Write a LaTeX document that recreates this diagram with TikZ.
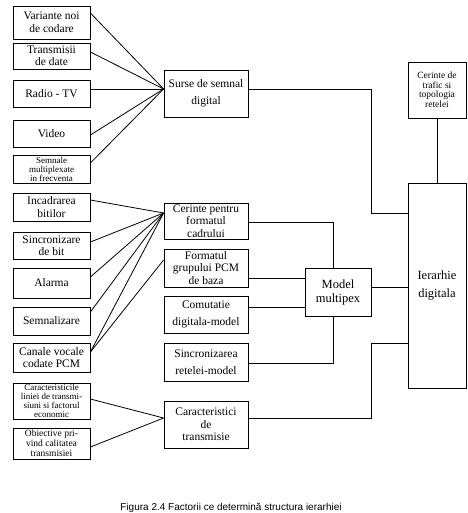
\documentclass[tikz,border=0pt]{standalone}
\usepackage{fontspec}
\setmainfont{Liberation Serif}
\newfontfamily\captionfont{Liberation Sans}
\usepackage{tikz}
\usetikzlibrary{positioning}
\tikzstyle{factor} = [rectangle, minimum width=77pt, text centered, align=center, draw=black, inner sep=1pt, font=\fontsize{11.5}{12.5}\selectfont]
\tikzstyle{factormic} = [factor, font=\fontsize{9}{9}\selectfont]
\tikzstyle{grup} = [rectangle, minimum width=84pt, text centered, align=center, draw=black, inner sep=1pt, font=\fontsize{11.5}{12.5}\selectfont]
\tikzstyle{bloc} = [rectangle, text centered, align=center, draw=black, inner sep=1pt, font=\fontsize{12.5}{14}\selectfont]
\tikzstyle{line} = [line width=0.8pt]

\begin{document}
\begin{tikzpicture}[x=1pt, y=-1pt, line width=0.8pt]
			\useasboundingbox (0,0) rectangle (467,513);
			
			% surse de semnal digital
			\node (var_cod) [factor, minimum height=33pt] at (51.5,22.5) {Variante noi\\de codare};
			\node (trans_date) [factor, minimum height=26pt] at (51.5,56) {Transmisii\\de date};
			\node (radio_tv) [factor, minimum height=27pt] at (51.5,93.5) {Radio - TV};
			\node (video) [factor, minimum height=27pt] at (51.5,133.5) {Video};
			\node (semn_mux) [factormic, minimum height=28pt] at (51.5,169) {Semnale\\multiplexate\\in frecventa};
			
			% format cadru
			\node (incadrare) [factor, minimum height=28pt] at (51.5,207) {Incadrarea\\bitilor};
			\node (sinc_bit) [factor, minimum height=27pt] at (51.5,245.5) {Sincronizare\\de bit};
			\node (alarma) [factor, minimum height=30pt] at (51.5,283) {Alarma};
			\node (semnalizare) [factor, minimum height=28pt] at (51.5,321) {Semnalizare};
			\node (canale_pcm) [factor, minimum height=29pt] at (51.5,357.5) {Canale vocale\\codate PCM};
			
			% transmisie
			\node (carac_linie) [factormic, minimum height=36pt] at (51.5,401) {Caracteristicile\\liniei de transmi-\\siuni si factorul\\economic};
			\node (obiective) [factormic, minimum height=31pt, font=\fontsize{9.5}{10}\selectfont] at (51.5,443.5) {Obiective pri-\\vind calitatea\\transmisiei};
			
			% coloana din mijloc
			\node (surse) [grup, minimum height=47pt] at (206,93.5) {Surse de semnal\\[4pt]digital};
			\node (cerinte_cadru) [grup, minimum height=36pt] at (206,221) {Cerinte pentru\\formatul\\cadrului};
			\node (format_pcm) [grup, minimum height=38pt] at (206,268) {Formatul\\grupului PCM\\de baza};
			\node (comutatie) [grup, minimum height=37pt] at (206,314.5) {Comutatie\\[5pt]digitala-model};
			\node (sinc_retea) [grup, minimum height=38pt] at (206,362) {Sincronizarea\\[5pt]retelei-model};
			\node (carac_trans) [grup, minimum height=47pt] at (206,424.5) {Caracteristici\\de\\transmisie};
			
			\node (model_mux) [bloc, minimum width=66pt, minimum height=48pt] at (338,292) {Model\\multipex};
			\node (ierarhie) [bloc, minimum width=58pt, minimum height=205pt] at (437,285.5) {Ierarhie\\[4pt]digitala};
			\node (cerinte_trafic) [bloc, minimum width=58pt, minimum height=56pt, font=\fontsize{9.5}{9.5}\selectfont] at (437,90) {Cerinte de\\trafic si\\topologia\\retelei};
			
			\node (fig_titlu) [anchor=base, inner sep=0pt, font=\captionfont\fontsize{10}{12}\selectfont] at (231,510) {Figura 2.4 Factorii ce determină structura ierarhiei};
			
			\coordinate (in_surse) at ([yshift=4.5pt]surse.west);
			\coordinate (in_cadru) at ([yshift=8pt]cerinte_cadru.west);
			\coordinate (in_trans) at ([yshift=6.5pt]carac_trans.west);
			
			\draw [line] ([yshift=9.5pt]var_cod.east) -- (in_surse);
			\draw [line] ([yshift=4pt]trans_date.east) -- (in_surse);
			\draw [line] ([yshift=4.5pt]radio_tv.east) -- (in_surse);
			\draw [line] ([yshift=-1.5pt]video.east) -- (in_surse);
			\draw [line] ([yshift=6pt]semn_mux.east) -- (in_surse);
			
			\draw [line] ([yshift=7pt]incadrare.east) -- (in_cadru);
			\draw [line] ([yshift=3.5pt]sinc_bit.east) -- (in_cadru);
			\draw [line] ([yshift=6pt]alarma.east) -- (in_cadru);
			\draw [line] ([yshift=9pt]semnalizare.east) -- (in_cadru);
			\draw [line] ([yshift=5.5pt]canale_pcm.east) -- (in_cadru);
			\draw [line] ([yshift=5.5pt]canale_pcm.east) -- ([yshift=8pt]format_pcm.west);
			
			\draw [line] ([yshift=2pt]carac_linie.east) -- (in_trans);
			\draw [line] ([yshift=-3.5pt]obiective.east) -- (in_trans);
			
			\draw [line] ([yshift=-1pt]cerinte_cadru.east) -| ([xshift=-5pt]model_mux.north);
			\draw [line] ([yshift=-10pt]format_pcm.east) -- ([yshift=-10pt]format_pcm.east -| model_mux.west);
			\draw [line] ([yshift=7.5pt]comutatie.east) -- ([yshift=7.5pt]comutatie.east -| model_mux.west);
			\draw [line] ([yshift=-1pt]sinc_retea.east) -| ([xshift=-5pt]model_mux.south);
			
			\draw [line] ([yshift=4.5pt]surse.east) -| ++(123,124) -- ([yshift=72.5pt]ierarhie.west);
			\draw [line] ([yshift=5pt]model_mux.east) -- ([yshift=5pt]model_mux.east -| ierarhie.west);
			\draw [line] ([yshift=6.5pt]carac_trans.east) -| ++(123,-75) -- ([yshift=-57.5pt]ierarhie.west);
			\draw [line] (cerinte_trafic) -- (ierarhie);
			
		\end{tikzpicture}
\end{document}
